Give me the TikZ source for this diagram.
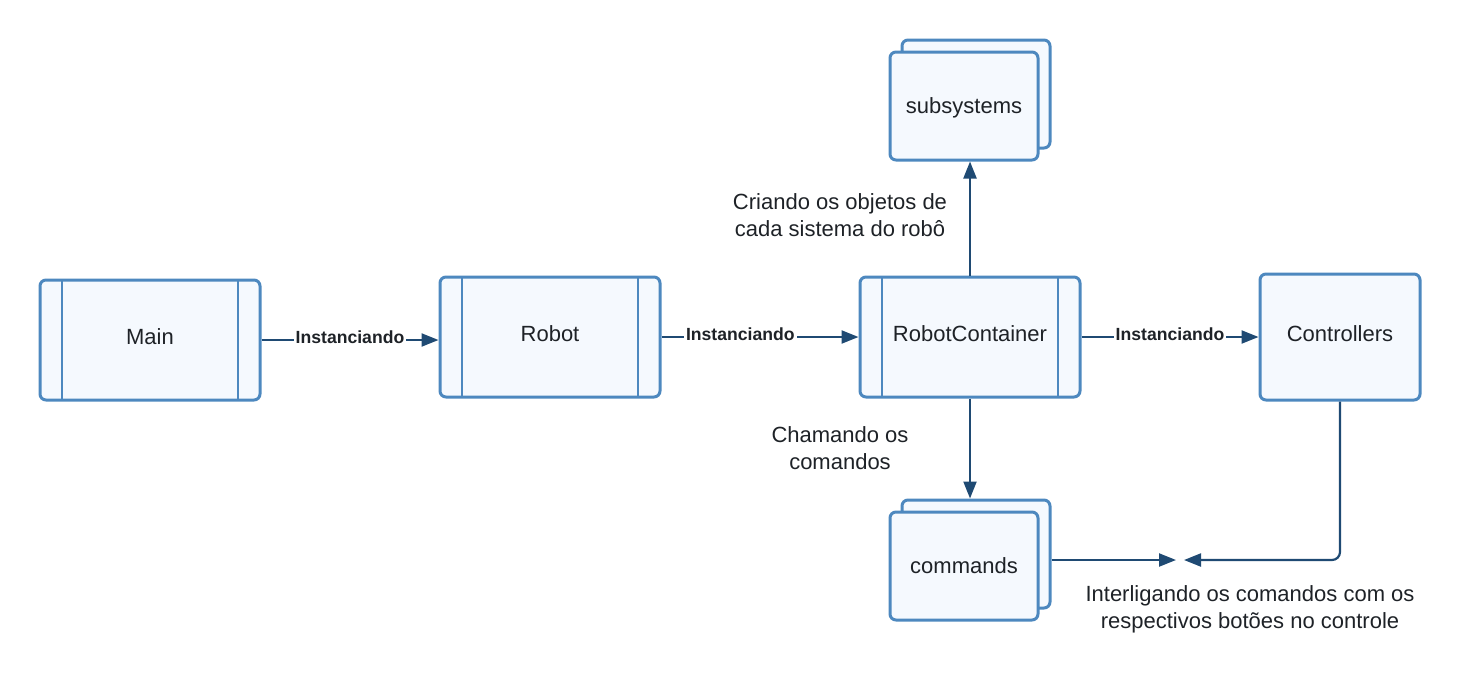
\documentclass[tikz,border=0pt]{standalone}
\usepackage{fontspec}
\setmainfont{Liberation Sans}
\usetikzlibrary{positioning,arrows.meta}

\definecolor{boxline}{HTML}{4D88BF}
\definecolor{boxfill}{HTML}{F5F9FE}
\definecolor{wire}{HTML}{1F4A73}
\definecolor{ink}{HTML}{1E2227}

\tikzset{
  block/.style={draw=boxline, fill=boxfill, line width=1.5pt, rounded corners=3pt,
    text=ink, font=\fontsize{11}{13.5}\selectfont},
  process/.style={block, minimum width=110pt, minimum height=60pt, text depth=3pt,
    path picture={
      \draw[boxline, line width=1pt] ([xshift=11pt]path picture bounding box.north west) -- ([xshift=11pt]path picture bounding box.south west);
      \draw[boxline, line width=1pt] ([xshift=-11pt]path picture bounding box.north east) -- ([xshift=-11pt]path picture bounding box.south east);}},
  terminal/.style={block, minimum width=80pt, minimum height=63pt, text depth=3pt},
  stack/.style={block, minimum width=74pt, minimum height=54pt, text depth=0pt},
  link/.style={draw=wire, line width=1.1pt, -{Triangle[length=8.5pt,width=6.5pt]}},
  tag/.style={fill=white, text=ink, font=\fontsize{8.8}{10}\selectfont\bfseries, inner sep=1pt, yshift=1.5pt},
  note/.style={text=ink, align=center, font=\fontsize{11}{13.5}\selectfont}
}

\begin{document}
\begin{tikzpicture}[node distance=200pt, on grid]
   \useasboundingbox (0,0) rectangle (730pt,-340pt);
   \node[process] (main) at (75pt,-170pt) {Main};
   \node[process] (robot) [right=200pt of main, yshift=1.5pt] {Robot};
   \node[process] (rc) [right=210pt of robot] {RobotContainer};
   \node[terminal] (ctrl) [right=185pt of rc] {Controllers};
   \node[stack] (subsBack) [above=121.5pt of rc, xshift=3pt] {};
   \node[stack] (subs) [below left=6pt and 6pt of subsBack] {subsystems};
   \node[stack] (cmdBack) [below=108.5pt of rc, xshift=3pt] {};
   \node[stack] (cmd) [below left=6pt and 6pt of cmdBack] {commands};
   \coordinate (meet) at (590pt,-280pt);
   \node[note] (linkNote) at ([xshift=35pt,yshift=-24.5pt]meet) {Interligando os comandos com os\\respectivos botões no controle};

   \draw[link] (main.east) -- (main.east -| robot.west) node[tag, midway] {Instanciando};
   \draw[link] (robot) -- (rc) node[tag, pos=0.4] {Instanciando};
   \draw[link] (rc) -- (ctrl) node[tag, midway] {Instanciando};
   \draw[link] (rc) -- (rc |- subs.south)
      node[note, midway, xshift=-65pt, yshift=1.5pt] {Criando os objetos de\\cada sistema do robô};
   \draw[link] (rc) -- (rc |- cmdBack.north)
      node[note, midway, xshift=-65pt] {Chamando os\\comandos};
   \draw[link] (meet -| cmdBack.east) -- ([xshift=-2pt]meet);
   \draw[link, rounded corners=4pt] (ctrl) |- ([xshift=2pt]meet);
\end{tikzpicture}
\end{document}
